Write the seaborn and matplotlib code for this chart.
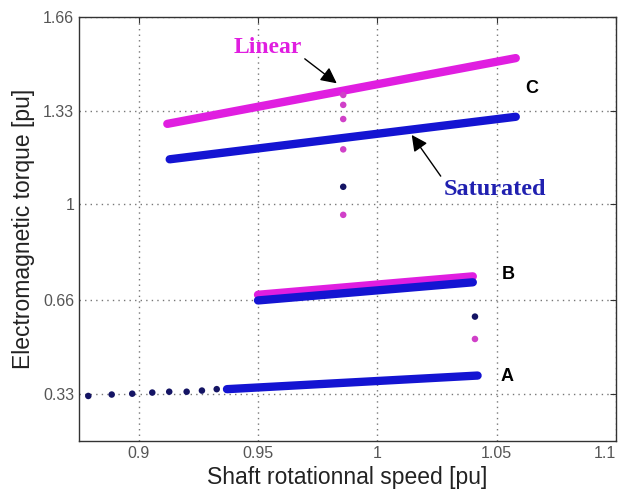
import matplotlib
matplotlib.use("Agg")
import matplotlib.pyplot as plt
import seaborn as sns
import pandas as pd

# ---- data ----
c_lin_x = [0.912, 1.058]
c_lin_y = [1.283, 1.515]
c_sat_x = [0.913, 1.058]
c_sat_y = [1.158, 1.308]
b_lin_x = [0.950, 1.040]
b_lin_y = [0.680, 0.745]
b_sat_x = [0.950, 1.040]
b_sat_y = [0.660, 0.724]
a_sat_x = [0.937, 1.042]
a_sat_y = [0.347, 0.395]

tc_lin_x = [0.9857, 0.9857, 0.9857, 0.9857, 0.9857]
tc_lin_y = [1.385, 1.350, 1.300, 1.193, 0.962]
tc_sat_x = [0.9857]
tc_sat_y = [1.061]
tb_sat_x = [1.0409]
tb_sat_y = [0.603]
tb_lin_x = [1.0409]
tb_lin_y = [0.524]
ta_x = [0.8789, 0.8887, 0.8973, 0.9057, 0.9128, 0.9201, 0.9265, 0.9327]
ta_y = [0.323, 0.328, 0.331, 0.335, 0.338, 0.338, 0.342, 0.347]

xticks = [0.9, 0.95, 1.0, 1.05, 1.1]
xticklabels = ["0.9", "0.95", "1", "1.05", "1.1"]
yticks = [0.33, 0.66, 1.0, 1.33, 1.66]
yticklabels = ["0.33", "0.66", "1", "1.33", "1.66"]

MAG = "#e01ee0"
BLUE = "#1414d2"
MAG_DOT = "#d040c8"
BLUE_DOT = "#141464"

sns.set_style("white")
plt.rcParams["font.family"] = ["Liberation Sans", "DejaVu Sans"]

fig = plt.figure(figsize=(6.23, 4.93), dpi=100)
ax = fig.add_axes([0.1268, 0.106, 0.862, 0.8595])

lw = 6
for xs, ys, col in [(c_lin_x, c_lin_y, MAG), (c_sat_x, c_sat_y, BLUE),
                    (b_lin_x, b_lin_y, MAG), (b_sat_x, b_sat_y, BLUE),
                    (a_sat_x, a_sat_y, BLUE)]:
    sns.lineplot(x=xs, y=ys, color=col, linewidth=lw, ax=ax,
                 solid_capstyle="round", zorder=3)

for xs, ys, col in [(tc_lin_x, tc_lin_y, MAG_DOT), (tc_sat_x, tc_sat_y, BLUE_DOT),
                    (tb_sat_x, tb_sat_y, BLUE_DOT), (tb_lin_x, tb_lin_y, MAG_DOT),
                    (ta_x, ta_y, BLUE_DOT)]:
    sns.scatterplot(x=xs, y=ys, color=col, s=22, edgecolor="none", ax=ax, zorder=4)

ax.set_xlim(0.875, 1.1)
ax.set_ylim(0.165, 1.66)
ax.set_xticks(xticks)
ax.set_xticklabels(xticklabels)
ax.set_yticks(yticks)
ax.set_yticklabels(yticklabels)
ax.grid(True, linestyle=(0, (1, 3)), color="#777777", linewidth=1.0)
ax.tick_params(direction="in", length=4, color="#333333", labelsize=11.5,
               labelcolor="#555555", top=True, right=True)
last = ax.get_xticklabels()[-1]
last.set_horizontalalignment("right")
for sp in ax.spines.values():
    sp.set_color("#333333")
    sp.set_linewidth(1.0)

ax.set_xlabel("Shaft rotationnal speed [pu]", fontsize=16.5, color="#222222", labelpad=4)
ax.set_ylabel("Electromagnetic torque [pu]", fontsize=16.5, color="#222222", labelpad=6)

serif = ["Liberation Serif", "DejaVu Serif"]
ax.annotate("Linear", xy=(0.983, 1.426), xytext=(0.9539, 1.551),
            color=MAG, fontsize=17, fontweight="bold", family=serif,
            ha="center", va="center",
            arrowprops=dict(arrowstyle="-|>", color="black", lw=1,
                            mutation_scale=24, shrinkA=0, shrinkB=0,
                            relpos=(1.0, 0.1)))
ax.annotate("Saturated", xy=(1.0144, 1.244), xytext=(1.0493, 1.050),
            color="#2020b0", fontsize=17.5, fontweight="bold", family=serif,
            ha="center", va="center",
            arrowprops=dict(arrowstyle="-|>", color="black", lw=1,
                            mutation_scale=24, shrinkA=0, shrinkB=0,
                            relpos=(0.0, 0.95)))

for lab, x, y in [("C", 1.0647, 1.408), ("B", 1.0547, 0.750), ("A", 1.0542, 0.391)]:
    ax.text(x, y, lab, fontsize=13, fontweight="bold", color="black",
            ha="center", va="center")

fig.savefig("out.png", dpi=100)
